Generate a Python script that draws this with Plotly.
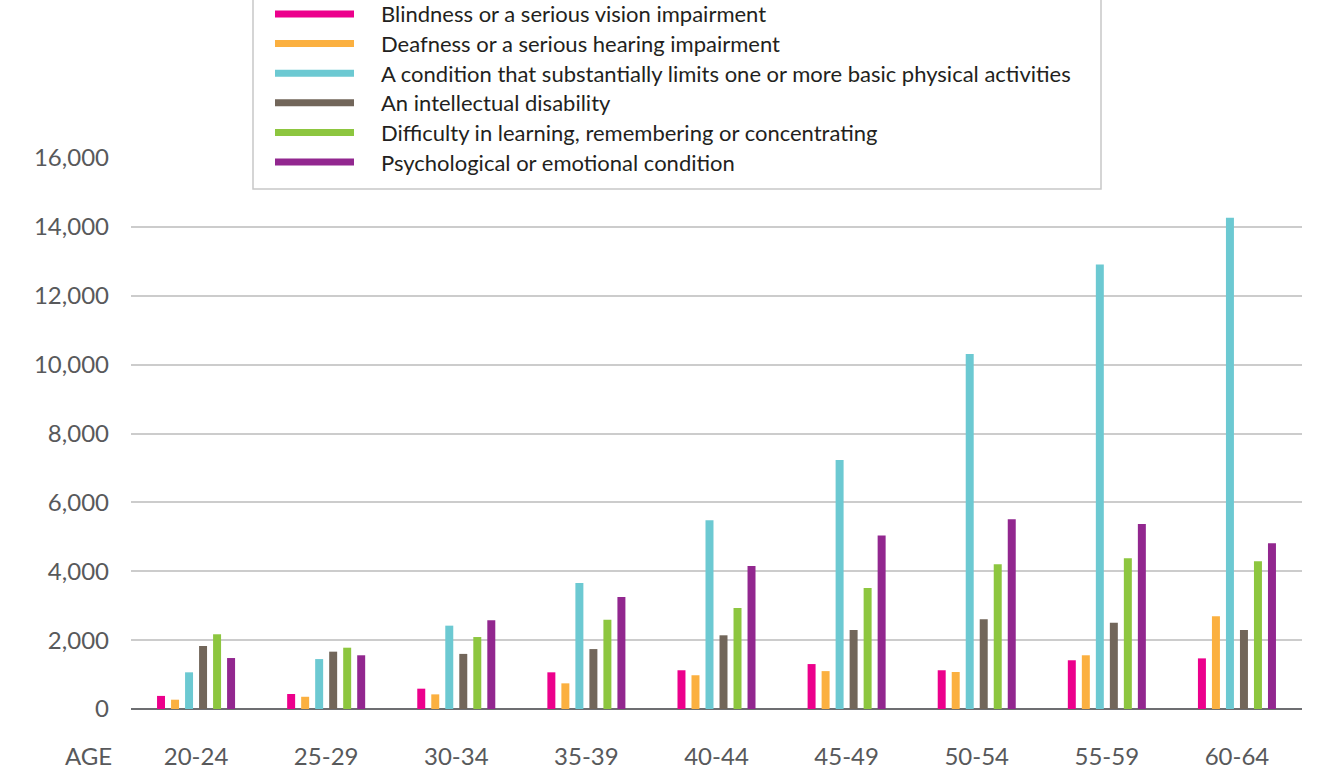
import plotly.graph_objects as go

# Age bands on the x axis
age_groups = ["20-24", "25-29", "30-34", "35-39", "40-44", "45-49", "50-54", "55-59", "60-64"]

# Series names (legend order) and their values per age band
series_names = [
    "Blindness or a serious vision impairment",
    "Deafness or a serious hearing impairment",
    "A condition that substantially limits one or more basic physical activities",
    "An intellectual disability",
    "Difficulty in learning, remembering or concentrating",
    "Psychological or emotional condition",
]
vision = [380, 435, 590, 1065, 1125, 1305, 1125, 1415, 1470]
hearing = [270, 355, 425, 745, 980, 1100, 1075, 1560, 2690]
physical = [1065, 1450, 2420, 3660, 5480, 7230, 10310, 12910, 14265]
intellectual = [1830, 1665, 1600, 1740, 2140, 2295, 2605, 2505, 2295]
learning = [2170, 1780, 2090, 2595, 2930, 3510, 4200, 4375, 4290]
psychological = [1480, 1560, 2575, 3250, 4150, 5040, 5510, 5370, 4810]

series_values = [vision, hearing, physical, intellectual, learning, psychological]
colors = ["#EC008C", "#FBB040", "#6CC9D2", "#72665A", "#8DC63F", "#92278F"]

y_ticks = [0, 2000, 4000, 6000, 8000, 10000, 12000, 14000, 16000]

# Plot-area geometry in pixels (used to place the hand-drawn legend)
W, H = 1327, 784
ML, MR, MT, MB = 131, 25, 158, 75
PW, PH = W - ML - MR, H - MT - MB


def px_x(px):
    return (px - ML) / PW


def px_y(py):
    return (H - MB - py) / PH


fig = go.Figure()
for name, vals, col in zip(series_names, series_values, colors):
    fig.add_trace(go.Bar(
        x=age_groups, y=vals, name=name,
        marker=dict(color=col, line=dict(width=0)),
        showlegend=False,
    ))

shapes = []
annotations = []

# Legend box with white fill, partly running off the top edge
shapes.append(dict(
    type="rect", xref="paper", yref="paper", layer="above",
    x0=px_x(253), x1=px_x(1101), y0=px_y(189), y1=px_y(-10),
    fillcolor="white", line=dict(color="#c8c8c8", width=1.5),
))
legend_rows = [14, 43.6, 73.2, 102.8, 132.4, 162]
for name, col, yy in zip(series_names, colors, legend_rows):
    shapes.append(dict(
        type="line", xref="paper", yref="paper", layer="above",
        x0=px_x(275), x1=px_x(354), y0=px_y(yy), y1=px_y(yy),
        line=dict(color=col, width=7),
    ))
    annotations.append(dict(
        text=name, xref="paper", yref="paper",
        x=px_x(379), y=px_y(yy), xanchor="left", yanchor="middle",
        showarrow=False, font=dict(family="Lato", size=22, color="#231f20"),
    ))

# "AGE" caption to the left of the category labels
annotations.append(dict(
    text="AGE", xref="paper", yref="paper",
    x=px_x(88), y=px_y(755), xanchor="center", yanchor="middle",
    showarrow=False, font=dict(family="Lato", size=24, color="#58595b"),
))

fig.update_layout(
    width=W, height=H,
    margin=dict(l=ML, r=MR, t=MT, b=MB, pad=0),
    paper_bgcolor="white", plot_bgcolor="white",
    barmode="group", bargap=0.354, bargroupgap=0.43,
    shapes=shapes, annotations=annotations,
    font=dict(family="Lato", color="#58595b"),
)
fig.update_xaxes(
    showgrid=False, showline=False, ticks="",
    tickfont=dict(family="Lato", size=24, color="#58595b"),
    ticklabelstandoff=31,
)
fig.update_yaxes(
    range=[0, 16000], tickvals=y_ticks, tickformat=",d",
    showgrid=True, gridcolor="#cccccc", gridwidth=1.6,
    zeroline=True, zerolinecolor="#6d6e71", zerolinewidth=2,
    showline=False, ticks="",
    tickfont=dict(family="Lato", size=24, color="#58595b"),
    ticklabelstandoff=21,
)

fig.write_html("out.html")
